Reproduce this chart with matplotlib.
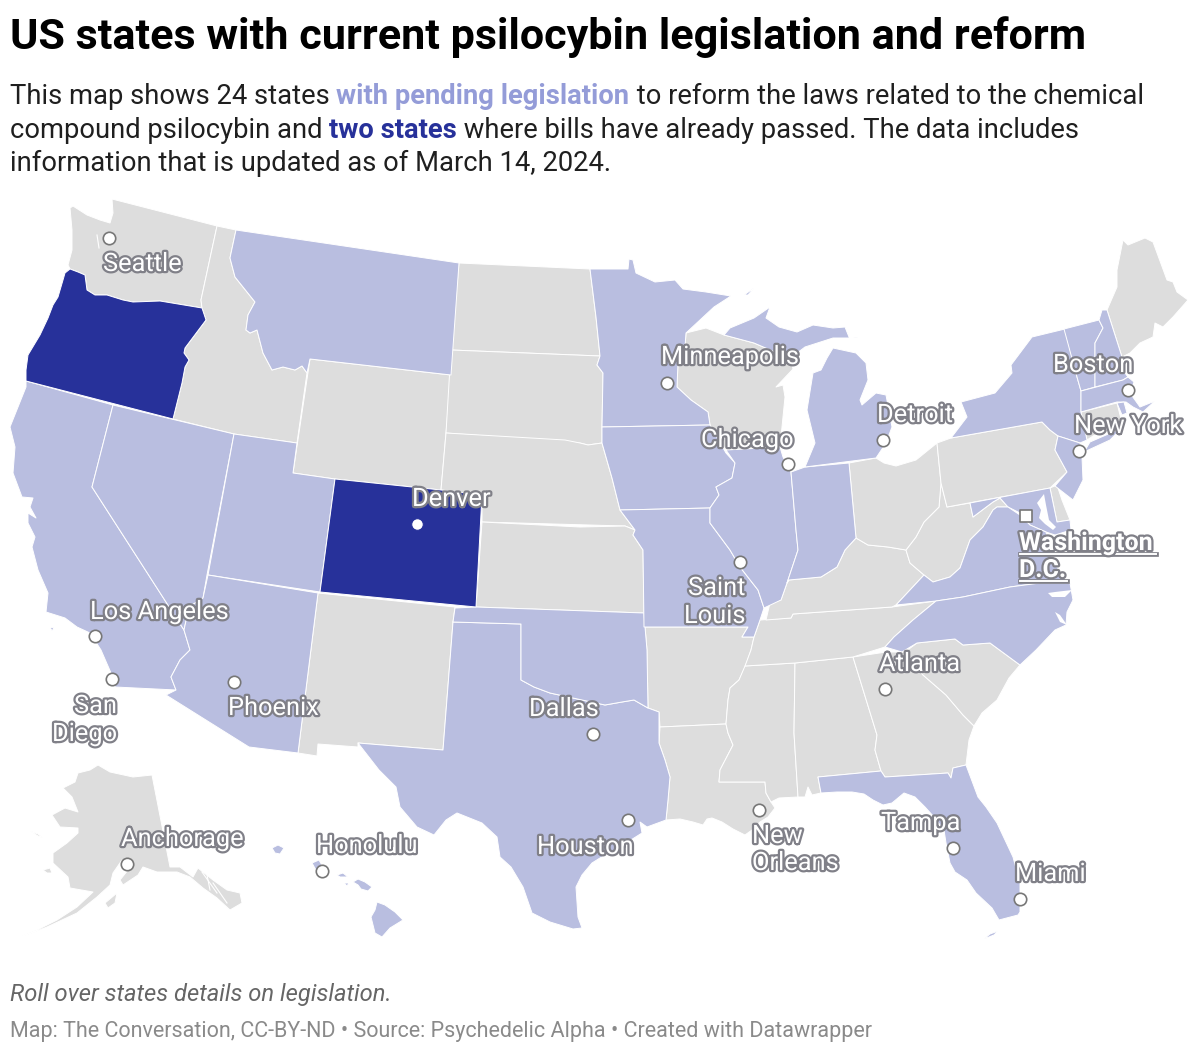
import matplotlib
matplotlib.use("Agg")
import matplotlib.pyplot as plt
import matplotlib.patheffects as pe
from matplotlib.patches import Polygon

plt.rcParams['font.family'] = ['Roboto', 'DejaVu Sans']

# state outlines (pixels)
WA = [(112,199),(217,226),(201,300),(202,308),(160,301),(133,302),(123,300),(107,295),(95,295),(87,290),(85,275),(78,272),(70,269),(68,265),(72,250),(72,230),(70,208),(73,206),(87,215),(100,220),(110,223),(113,213)]
OR = [(70,269),(78,272),(85,275),(87,290),(95,295),(107,295),(123,300),(133,302),(160,301),(202,308),(206,320),(185,348),(184,353),(189,360),(185,367),(182,383),(173,419),(26,381),(26,370),(28,355),(34,345),(40,335),(48,318),(53,305),(58,297),(63,280),(65,273)]
ID = [(217,226),(236,230),(230,258),(235,277),(255,302),(248,315),(246,330),(250,333),(257,330),(263,353),(272,370),(283,367),(295,370),(302,366),(307,373),(297,443),(234,434),(173,419),(182,383),(185,367),(189,360),(184,353),(185,348),(206,320),(202,308),(201,300)]
MT = [(236,230),(459,263),(451,375),(310,359),(307,373),(302,366),(295,370),(283,367),(272,370),(263,353),(257,330),(250,333),(246,330),(248,315),(255,302),(235,277),(230,258)]
WY = [(310,359),(451,375),(446,433),(441,490),(335,479),(293,473)]
CO = [(335,479),(441,490),(482,495),(476,607),(320,592)]
ND = [(459,263),(590,269),(596,317),(600,356),(451,350)]
SD = [(451,350),(600,356),(597,365),(603,373),(602,427),(602,443),(588,445),(580,443),(446,433)]
NE = [(446,433),(565,440),(580,443),(588,445),(602,443),(612,478),(620,510),(635,530),(625,526),(482,522),(482,495),(441,490)]
KS = [(482,522),(580,527),(625,526),(635,530),(633,535),(643,550),(644,613),(476,607)]
OK = [(455,608),(476,607),(644,613),(645,627),(647,650),(648,708),(634,700),(622,702),(605,705),(550,693),(534,687),(521,680),(521,624),(453,622)]
TX = [(453,622),(521,624),(521,680),(534,687),(550,693),(605,705),(622,702),(634,700),(648,708),(659,712),(659,743),(665,760),(670,777),(668,800),(666,820),(647,827),(640,822),(642,833),(615,850),(600,858),(592,863),(582,875),(576,887),(578,917),(582,928),(573,929),(550,922),(532,913),(523,887),(511,867),(500,857),(497,837),(482,823),(457,813),(446,820),(434,835),(417,827),(400,807),(396,787),(379,770),(358,743),(443,750)]
NM = [(318,593),(455,607),(453,622),(443,750),(358,743),(358,747),(318,744),(317,756),(298,753)]
AZ = [(208,575),(318,593),(298,753),(249,747),(166,695),(176,690),(171,677),(180,660),(190,650),(184,630),(189,607),(203,598)]
UT = [(234,434),(297,443),(293,473),(335,479),(320,592),(208,575)]
NV = [(113,405),(234,434),(207,575),(203,598),(189,607),(184,630),(92,487)]
CA = [(26,381),(113,405),(92,487),(184,630),(190,650),(180,660),(171,677),(176,690),(115,687),(111,673),(101,650),(90,633),(77,627),(65,618),(46,612),(48,593),(38,570),(32,547),(35,537),(28,523),(28,513),(36,518),(30,507),(33,498),(22,497),(13,473),(15,447),(10,427),(26,387)]
CA_ISLE = [(50,627),(54,628),(52,631)]
MN = [(590,269),(628,269),(629,259),(633,260),(636,273),(655,282),(675,280),(683,289),(706,292),(731,296),(714,307),(686,333),(685,347),(678,363),(677,387),(691,400),(708,412),(710,425),(602,427),(603,373),(597,365),(600,356),(596,317)]
MN_ISLE = [(754,288),(744,295),(748,295)]
IA = [(602,427),(710,425),(726,453),(735,463),(732,478),(716,487),(719,495),(710,508),(620,510),(612,478),(602,443)]
WI = [(686,333),(706,328),(724,335),(754,343),(775,352),(790,357),(793,369),(776,387),(783,385),(785,397),(780,447),(726,450),(710,425),(708,412),(691,400),(677,387),(678,363),(685,347)]
MI_UP = [(724,335),(730,328),(754,318),(770,307),(766,318),(779,327),(797,332),(813,325),(833,328),(845,327),(849,337),(858,338),(833,338),(805,347),(792,357),(775,352),(754,343)]
MI_LP = [(833,348),(856,353),(866,363),(868,380),(860,400),(862,405),(876,393),(886,395),(892,427),(886,443),(876,458),(805,467),(815,443),(807,410),(813,373),(821,370),(827,358)]
IL = [(726,450),(780,447),(783,457),(791,472),(796,530),(798,550),(787,583),(781,600),(764,608),(758,590),(740,567),(730,550),(710,523),(710,508),(719,495),(716,487),(732,478),(735,463)]
IN = [(791,472),(805,467),(849,463),(856,538),(845,550),(837,567),(821,577),(789,580),(787,583),(798,550),(796,530)]
MO = [(620,510),(710,508),(710,523),(730,550),(740,567),(758,590),(764,608),(760,620),(754,637),(742,637),(748,627),(644,627),(643,550),(633,535),(635,530)]
AR = [(645,627),(748,627),(742,637),(754,637),(751,650),(745,667),(739,680),(730,688),(728,700),(726,724),(660,727),(659,712),(648,708),(647,650)]
LA = [(660,727),(726,724),(728,733),(733,745),(720,770),(719,782),(765,782),(766,793),(771,802),(775,808),(768,817),(760,822),(752,830),(745,835),(733,829),(722,822),(712,818),(707,819),(703,825),(693,822),(680,819),(666,820),(668,800),(670,777),(665,760),(659,743)]
MS = [(745,666),(795,663),(794,733),(798,797),(779,798),(771,802),(766,793),(765,782),(719,782),(720,770),(733,745),(728,733),(726,724),(728,700),(730,688),(739,680)]
AL = [(795,663),(853,657),(877,735),(875,750),(881,771),(818,777),(821,793),(812,795),(808,787),(805,797),(798,797),(794,733)]
GA = [(853,657),(886,652),(905,652),(923,675),(946,695),(963,715),(974,726),(969,740),(966,765),(953,768),(951,778),(948,773),(885,777),(881,771),(875,750),(877,735)]
SC = [(905,652),(917,643),(955,639),(963,645),(990,643),(1020,665),(1009,678),(997,700),(982,713),(974,726),(963,715),(946,695),(923,675)]
NC = [(936,601),(963,597),(1010,587),(1040,583),(1070,583),(1073,600),(1067,612),(1066,625),(1055,630),(1036,650),(1020,665),(990,643),(963,645),(955,639),(917,643),(902,652),(885,647),(894,637),(913,620)]
TN = [(760,620),(791,618),(793,614),(892,607),(936,601),(913,620),(894,637),(885,647),(853,657),(795,663),(745,666),(751,650),(754,637)]
KY = [(766,620),(770,603),(781,600),(787,583),(789,580),(821,577),(837,567),(845,550),(856,538),(868,545),(888,547),(906,550),(910,563),(924,575),(896,605),(892,607),(793,614),(791,618)]
VA = [(896,605),(924,575),(933,582),(950,577),(960,568),(970,540),(983,527),(993,510),(997,507),(1008,507),(1020,515),(1030,525),(1046,532),(1052,560),(1068,583),(1040,583),(1010,587),(963,597),(936,601)]
WV = [(941,483),(947,507),(970,503),(973,517),(993,502),(1000,498),(1008,507),(997,507),(993,510),(983,527),(970,540),(960,568),(950,577),(933,582),(924,575),(910,563),(906,550),(916,537),(924,522),(939,507)]
MD = [(970,503),(1050,488),(1057,522),(1070,520),(1071,530),(1055,535),(1046,532),(1030,525),(1020,513),(1008,507),(1000,498),(993,502),(973,517)]
DE = [(1050,488),(1057,485),(1062,500),(1070,520),(1057,522)]
OH = [(849,463),(876,458),(884,463),(896,466),(916,460),(937,443),(941,483),(939,507),(924,522),(916,537),(906,550),(888,547),(868,545),(856,538)]
PA = [(937,443),(951,438),(1042,422),(1050,430),(1058,436),(1055,450),(1067,472),(1050,488),(947,507),(941,483)]
NY = [(961,402),(995,393),(1012,373),(1011,365),(1032,337),(1065,329),(1077,377),(1081,391),(1081,412),(1087,440),(1080,443),(1058,436),(1050,430),(1042,422),(951,438),(967,417)]
NY_LI = [(1090,442),(1122,428),(1110,440),(1084,452)]
NJ = [(1058,436),(1080,443),(1082,457),(1083,480),(1073,500),(1055,486),(1067,472),(1055,450)]
VT = [(1064,329),(1099,320),(1103,328),(1095,343),(1095,387),(1081,391),(1077,377)]
NH = [(1099,320),(1102,310),(1107,310),(1122,357),(1125,373),(1128,377),(1123,380),(1095,387),(1095,343),(1103,328)]
ME = [(1107,310),(1117,287),(1117,270),(1123,240),(1128,245),(1145,238),(1153,242),(1167,280),(1173,282),(1177,292),(1188,300),(1173,317),(1163,327),(1155,323),(1153,337),(1140,343),(1130,353),(1122,357)]
MA = [(1081,391),(1123,380),(1128,377),(1134,382),(1130,393),(1140,407),(1155,401),(1143,412),(1133,407),(1126,402),(1117,402),(1081,412)]
CT = [(1081,412),(1117,403),(1122,423),(1093,436),(1087,440)]
RI = [(1117,403),(1124,402),(1127,413),(1122,415)]
FL = [(818,777),(881,771),(885,777),(948,773),(951,778),(953,768),(966,765),(969,773),(978,797),(986,807),(997,823),(1013,857),(1020,883),(1020,912),(1018,915),(999,920),(992,908),(976,893),(967,880),(955,872),(950,863),(946,843),(944,830),(934,817),(925,807),(915,797),(904,793),(892,803),(883,805),(873,800),(864,794),(852,792),(837,792),(821,793)]
FL_KEYS = [(984,939),(990,934),(998,931),(994,935)]
AK = [(98,765),(110,772),(133,777),(152,775),(170,867),(180,867),(193,877),(198,868),(213,880),(227,890),(240,893),(242,903),(230,910),(217,898),(203,888),(190,877),(177,872),(157,872),(143,867),(138,875),(123,885),(120,880),(128,870),(122,860),(113,873),(110,885),(97,897),(77,913),(47,927),(32,933),(20,937),(37,930),(57,920),(77,907),(93,892),(70,888),(68,877),(53,863),(53,853),(67,843),(78,833),(78,828),(60,827),(52,815),(65,808),(78,812),(72,797),(63,788),(75,782),(78,773),(90,770)]
AK_KODIAK = [(105,903),(117,893),(115,903),(108,908)]
AK_STLAW = [(30,831),(38,834),(43,838),(38,836)]
AK_NUNIVAK = [(43,870),(50,868),(52,873),(47,873)]
HI_BIG = [(377,902),(385,905),(395,912),(403,920),(390,928),(382,937),(375,933),(371,917),(375,910)]
HI_MAUI = [(353,882),(358,879),(365,882),(372,887),(368,891),(361,889),(358,885)]
HI_MOLOKAI = [(337,875),(343,873),(348,877),(340,877)]
HI_LANAI = [(344,883),(349,883),(347,886)]
HI_OAHU = [(312,863),(319,860),(323,867),(317,872)]
HI_KAUAI = [(272,848),(278,845),(284,848),(280,854),(275,853)]

# bays and sounds, painted white over the states
CHESAPEAKE = [(1044,494),(1037,503),(1041,510),(1039,518),(1045,524),(1053,530),(1056,527),(1049,520),(1046,505)]
ALBEMARLE = [(1048,593),(1055,592),(1072,590),(1065,597),(1052,597)]
PAMLICO = [(1055,612),(1060,615),(1067,625),(1060,622)]
water = [CHESAPEAKE, ALBEMARLE, PAMLICO]
# thin white strokes: Alexander archipelago, Padre Island lagoon, Puget Sound
water_lines = [[(202,872),(217,893)], [(207,875),(210,890)], [(213,883),(227,903)],
               [(580,885),(578,900),(581,918)], [(97,235),(99,248)]]

passed_states = [OR, CO]
pending_states = [MT, CA, CA_ISLE, NV, UT, AZ, TX, OK, MN, MN_ISLE, IA, MO, IL, IN, MI_UP, MI_LP, NY, NY_LI, VT, NH, MA, RI, NJ,
                  MD, VA, NC, FL, FL_KEYS, HI_BIG, HI_MAUI, HI_MOLOKAI, HI_LANAI, HI_OAHU, HI_KAUAI]
other_states = [WA, ID, WY, ND, SD, NE, KS, NM, WI, AR, LA, MS, AL, GA, SC, TN, KY, WV, DE, OH, PA, ME, CT,
                AK, AK_KODIAK, AK_STLAW, AK_NUNIVAK]

# city markers
city_x = [109, 667, 788, 883, 1128, 1079, 740, 95, 112, 234, 593, 885, 628, 759, 953, 1020, 127, 322]
city_y = [238, 383, 464, 440, 390, 451, 562, 636, 679, 682, 734, 689, 820, 810, 848, 899, 864, 871]
denver_dot = (417, 524)
dc_square = (1026, 516)

# label text, left edge, centre line
label_text = ["Seattle", "Minneapolis", "Chicago", "Detroit", "Boston", "New York", "Saint", "Louis", "Los Angeles",
              "San", "Diego", "Phoenix", "Dallas", "Atlanta", "Houston", "New", "Orleans", "Tampa", "Miami",
              "Anchorage", "Honolulu", "Denver"]
label_x = [103, 661, 701, 877, 1053, 1074, 688, 684, 90, 74, 52, 228, 529, 879, 537, 752, 752, 881, 1015, 121, 316, 412]
label_y = [264, 357, 440, 415, 365, 426, 588, 616, 612, 706, 734, 708, 709, 664, 847, 836, 863, 823, 874, 839, 846, 499]

GRAY = '#dddddd'
PENDING = '#b9bee0'
PASSED = '#27319a'
HALO = '#808088'

fig = plt.figure(figsize=(11.99, 10.52), dpi=100)
ax = fig.add_axes([0, 0, 1, 1])
ax.set_xlim(0, 1199)
ax.set_ylim(1052, 0)
ax.axis('off')

for group, col in [(other_states, GRAY), (pending_states, PENDING), (passed_states, PASSED)]:
    for shape in group:
        ax.add_patch(Polygon(shape, closed=True, facecolor=col, edgecolor='white', linewidth=0.7, joinstyle='round'))
for shape in water:
    ax.add_patch(Polygon(shape, closed=True, facecolor='white', edgecolor='none', zorder=3))
for line in water_lines:
    ax.plot([p[0] for p in line], [p[1] for p in line], color='white', lw=0.8, zorder=3)

# dots
ax.scatter(city_x, city_y, s=80, facecolor='white', edgecolor='#777777', linewidth=1.2, zorder=5)
ax.scatter(*denver_dot, s=70, facecolor='white', edgecolor=PASSED, linewidth=0.8, zorder=5)
ax.scatter(*dc_square, s=80, marker='s', facecolor='white', edgecolor='#777777', linewidth=1.2, zorder=5)

halo = [pe.withStroke(linewidth=3.2, foreground=HALO)]
for t, x, y in zip(label_text, label_x, label_y):
    ax.text(x, y, t, fontsize=18.3, color='white', va='center', ha='left', path_effects=halo, zorder=6)

# Washington D.C. is bold and underlined
for t, y, x1 in [("Washington", 543, 1156), ("D.C.", 570, 1067)]:
    ax.plot([1020, x1], [y + 11, y + 11], color='white', lw=1.4, path_effects=[pe.withStroke(linewidth=3.4, foreground=HALO)], zorder=6)
    ax.text(1019, y, t, fontsize=18, fontweight='bold', color='white', va='center', ha='left', path_effects=halo, zorder=7)

# headline
ax.text(10, 37, "US states with current psilocybin legislation and reform", fontsize=31.1, fontweight='bold', color='black', va='center')

renderer = fig.canvas.get_renderer()


def text_advance(s, t):
    # bars keep the spaces at the ends from being dropped when measuring
    fp = t.get_fontproperties()
    w1 = renderer.get_text_width_height_descent("|" + s + "|", fp, False)[0]
    w0 = renderer.get_text_width_height_descent("||", fp, False)[0]
    return w1 - w0


def rich_line(x, y, parts):
    # draw pieces one after the other, measuring each
    for s, col, weight in parts:
        t = ax.text(x, y, s, fontsize=19.75, color=col, fontweight=weight, va='baseline')
        x += text_advance(s, t)


rich_line(10, 104, [("This map shows 24 states ", '#1f1f1f', 'normal'), ("with pending legislation", '#949cd8', 'bold'),
                    (" to reform the laws related to the chemical", '#1f1f1f', 'normal')])
rich_line(10, 138, [("compound psilocybin and ", '#1f1f1f', 'normal'), ("two states", PASSED, 'bold'),
                    (" where bills have already passed. The data includes", '#1f1f1f', 'normal')])
rich_line(10, 171, [("information that is updated as of March 14, 2024.", '#1f1f1f', 'normal')])

# footer
ax.text(10, 995, "Roll over states details on legislation.", fontsize=17.1, style='italic', color='#666666', va='center')
ax.text(10, 1031, "Map: The Conversation, CC-BY-ND \u2022 Source: Psychedelic Alpha \u2022 Created with Datawrapper",
        fontsize=15.5, color='#8a8a8a', va='center')

fig.savefig("out.png", dpi=100)
